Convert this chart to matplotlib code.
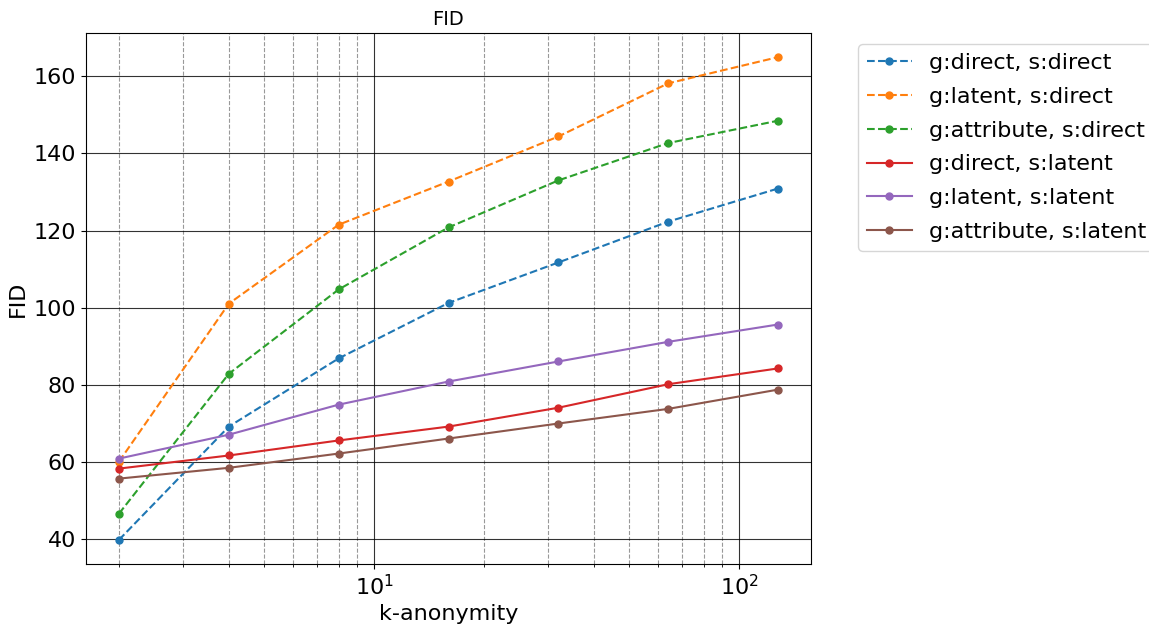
import numpy as np
import matplotlib.pyplot as plt

k = [2, 4, 8, 16, 32, 64, 128]

labels = ["g:direct, s:direct", "g:latent, s:direct", "g:attribute, s:direct",
          "g:direct, s:latent", "g:latent, s:latent", "g:attribute, s:latent"]

fid_direct_direct = [39.7, 69.1, 86.8, 101.2, 111.7, 122.3, 130.9]
fid_latent_direct = [60.0, 101.0, 121.5, 132.7, 144.4, 158.2, 165.0]
fid_attr_direct = [46.5, 82.8, 104.7, 120.8, 133.0, 142.7, 148.5]
fid_direct_latent = [58.2, 61.6, 65.5, 69.1, 74.0, 80.1, 84.2]
fid_latent_latent = [60.8, 67.0, 74.8, 80.8, 86.0, 91.1, 95.6]
fid_attr_latent = [55.6, 58.4, 62.1, 66.0, 69.9, 73.7, 78.7]

series = [fid_direct_direct, fid_latent_direct, fid_attr_direct,
          fid_direct_latent, fid_latent_latent, fid_attr_latent]
styles = ["--", "--", "--", "-", "-", "-"]

fig, ax = plt.subplots(figsize=(11.49, 6.24), dpi=100)
fig.subplots_adjust(left=86/1149, right=811/1149, top=1-33/624, bottom=1-564/624)

for i, (vals, ls) in enumerate(zip(series, styles)):
    ax.plot(k, vals, ls, marker="o", ms=5, color="C%d" % i, label=labels[i])

ax.set_xscale("log")
ax.grid(True, which="major", color="black", linewidth=0.8, alpha=0.8)
ax.grid(True, which="minor", axis="x", color="gray", linestyle="--", linewidth=0.8, alpha=0.8)
ax.tick_params(labelsize=16)
ax.set_xlabel("k-anonymity", fontsize=16)
ax.set_ylabel("FID", fontsize=16)
ax.set_title("FID", fontsize=14)
ax.legend(bbox_to_anchor=(1.05, 1), loc="upper left", fontsize=16, labelspacing=0.62)

plt.savefig("out.png")
